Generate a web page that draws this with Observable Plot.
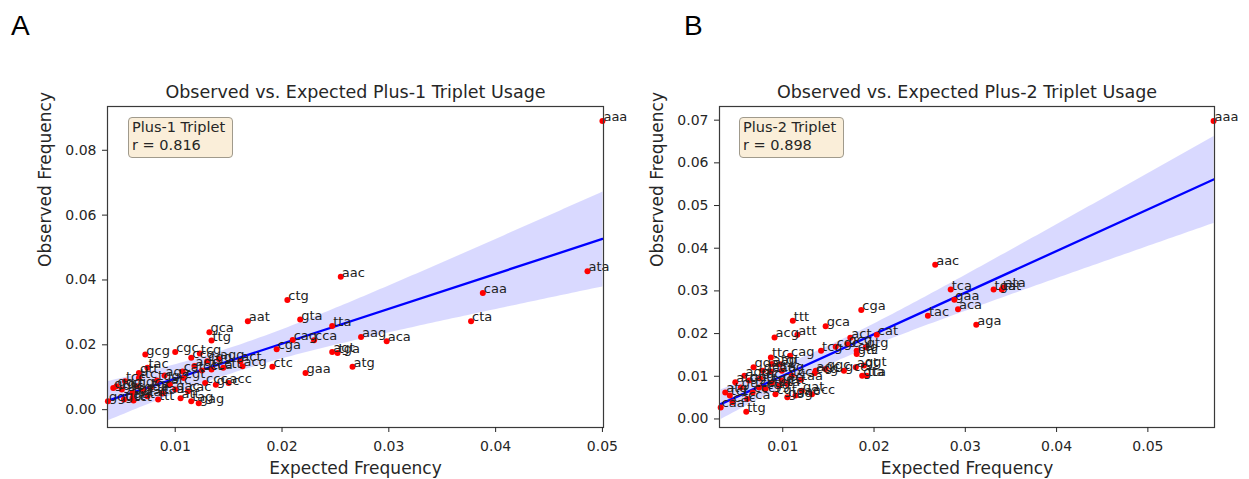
<!DOCTYPE html>
<html>
<head>
<meta charset="utf-8">
<script src="https://cdn.jsdelivr.net/npm/d3@7"></script>
<script src="https://cdn.jsdelivr.net/npm/@observablehq/plot@0.6"></script>
<style>
  html, body { margin: 0; padding: 0; background: #fff; }
  #root { position: relative; width: 1249px; height: 479px; overflow: hidden; font-family: "DejaVu Sans", sans-serif; color: #262626; }
  .panel { position: absolute; top: 0; }
  .letter { position: absolute; font-family: "Liberation Sans", Arial, sans-serif; font-size: 28px; color: #000; line-height: 1; }
  .legend { position: absolute; box-sizing: border-box; background: #faeed9; border: 1.3px solid #a09a8c; border-radius: 4px;
            font-family: "DejaVu Sans", sans-serif; font-size: 14.5px; line-height: 17.7px; padding: 1px 0 0 3px; color: #262626; white-space: nowrap; }
</style>
</head>
<body>
<div id="root"></div>
<script>
// ---------- Data ----------
const codonsA = ["aaa","aac","ata","caa","cta","aag","aca","atg","agt","tga","gaa","ctc","acg","act","cga","cca","cag","tta","gta","ctg","aat","gca","ttg","gcg","cgc","ccg","tcg","cgg","agg","ctt","cat","cct","ccc","gcc","acc","cac","tag","gag","gac","tgg","tgc","tat","ttc","ggc","gat","tcc","gtc","ggg","gtg","ggt","gct","tct","ttt","tac","gtt","cgt","tca","aga","agc","atc","att","gga","taa","tgt"];
const expectedA = [0.0500,0.0255,0.0486,0.0388,0.0377,0.0274,0.0298,0.0266,0.0247,0.0252,0.0222,0.0191,0.0163,0.0161,0.0195,0.0230,0.0210,0.0247,0.0217,0.0205,0.0168,0.0132,0.0134,0.0072,0.0100,0.0115,0.0123,0.0130,0.0141,0.0145,0.0107,0.0125,0.0128,0.0138,0.0150,0.0112,0.0115,0.0122,0.0100,0.0083,0.0077,0.0074,0.0066,0.0064,0.0060,0.0053,0.0050,0.0045,0.0042,0.0037,0.0052,0.0061,0.0084,0.0074,0.0066,0.0108,0.0134,0.0090,0.0118,0.0095,0.0105,0.0070,0.0088,0.0060];
const observedA = [0.0890,0.0410,0.0427,0.0360,0.0273,0.0224,0.0211,0.0132,0.0178,0.0175,0.0113,0.0132,0.0134,0.0149,0.0186,0.0214,0.0215,0.0258,0.0278,0.0338,0.0273,0.0239,0.0213,0.0170,0.0178,0.0160,0.0173,0.0149,0.0156,0.0129,0.0118,0.0121,0.0082,0.0077,0.0082,0.0057,0.0026,0.0020,0.0062,0.0090,0.0067,0.0041,0.0098,0.0072,0.0036,0.0088,0.0062,0.0072,0.0067,0.0026,0.0031,0.0028,0.0031,0.0129,0.0113,0.0098,0.0124,0.0105,0.0135,0.0078,0.0035,0.0058,0.0050,0.0052];

const codonsB = ["aaa","aac","tca","gaa","aca","aga","tac","tga","tat","ata","cga","cat","act","gca","ttt","att","acg","ttc","cag","tcg","cgc","gcg","ctg","gtg","gtc","agc","ggc","gcc","agt","ggt","gta","tta","acc","ttg","ccg","aag","aat","agg","atc","atg","caa","cac","cca","ccc","cct","cgg","cgt","cta","ctc","ctt","gac","gag","gat","gct","gga","ggg","gtt","tag","tcc","tct","tgc","tgg","tgt","taa"];
const expectedB = [0.0572,0.0267,0.0284,0.0288,0.0292,0.0312,0.0259,0.0331,0.0340,0.0342,0.0186,0.0203,0.0174,0.0147,0.0111,0.0116,0.0091,0.0087,0.0108,0.0142,0.0158,0.0171,0.0181,0.0191,0.0181,0.0136,0.0147,0.0167,0.0180,0.0189,0.0187,0.0192,0.0132,0.0060,0.0135,0.0088,0.0087,0.0058,0.0048,0.0037,0.0032,0.0045,0.0061,0.0067,0.0074,0.0081,0.0092,0.0096,0.0099,0.0105,0.0114,0.0105,0.0121,0.0078,0.0068,0.0063,0.0054,0.0099,0.0110,0.0042,0.0075,0.0088,0.0097,0.0120];
const observedB = [0.0698,0.0361,0.0303,0.0279,0.0257,0.0221,0.0242,0.0303,0.0303,0.0308,0.0255,0.0197,0.0190,0.0217,0.0230,0.0197,0.0191,0.0144,0.0148,0.0160,0.0169,0.0175,0.0160,0.0168,0.0152,0.0113,0.0117,0.0113,0.0121,0.0125,0.0101,0.0101,0.0058,0.0017,0.0107,0.0129,0.0111,0.0101,0.0086,0.0062,0.0027,0.0039,0.0047,0.0062,0.0074,0.0070,0.0058,0.0078,0.0090,0.0082,0.0055,0.0051,0.0066,0.0113,0.0121,0.0090,0.0074,0.0113,0.0101,0.0055,0.0095,0.0085,0.0128,0.0092];

const xTicks = [0.01, 0.02, 0.03, 0.04, 0.05];
const yTicksA = [0.00, 0.02, 0.04, 0.06, 0.08];
const yTicksB = [0.00, 0.01, 0.02, 0.03, 0.04, 0.05, 0.06, 0.07];
const titles = ["Observed vs. Expected Plus-1 Triplet Usage", "Observed vs. Expected Plus-2 Triplet Usage"];
const legendNames = ["Plus-1 Triplet", "Plus-2 Triplet"];
const rValues = ["0.816", "0.898"];
const xLabel = "Expected Frequency";
const yLabel = "Observed Frequency";
const panelLetters = ["A", "B"];

// ---------- Drawing ----------
const root = document.getElementById("root");
const fmt = d3.format(".2f");
const textColor = "#262626";

function makePanel(cfg) {
  const data = cfg.codons.map((c, i) => ({codon: c, exp: cfg.exp[i], obs: cfg.obs[i]}));
  const chart = Plot.plot({
    width: cfg.width, height: 479,
    marginLeft: cfg.ml, marginRight: cfg.mr, marginTop: 106, marginBottom: 52,
    style: {fontFamily: "'DejaVu Sans', sans-serif", fontSize: "14px", color: textColor, background: "transparent", overflow: "visible"},
    x: {domain: cfg.xDomain, label: null},
    y: {domain: cfg.yDomain, label: null},
    marks: [
      Plot.linearRegressionY(data, {x: "exp", y: "obs", stroke: "#0000ff", strokeWidth: 2.3, fill: "#0000ff", fillOpacity: 0.15, ci: cfg.ci}),
      Plot.dot(data, {x: "exp", y: "obs", r: 3, fill: "#ff0000", stroke: "none"}),
      Plot.text(data, {x: "exp", y: "obs", text: "codon", textAnchor: "start", lineAnchor: "bottom", dx: 1, fontSize: 13, fill: "#222"}),
      Plot.frame({stroke: "#3a3a3a", strokeWidth: 1.2}),
      Plot.axisX({ticks: xTicks, tickFormat: fmt, tickSize: 5, tickPadding: 9, label: null, fontSize: 14}),
      Plot.axisY({ticks: cfg.yTicks, tickFormat: fmt, tickSize: 5, tickPadding: 6, label: null, fontSize: 14}),
      Plot.text([cfg.title], {text: d => d, frameAnchor: "top", lineAnchor: "bottom", dy: -9, fontSize: 17.5, fill: textColor}),
      Plot.text([xLabel], {text: d => d, frameAnchor: "bottom", lineAnchor: "bottom", dy: 46, fontSize: 17, fill: textColor}),
      Plot.text([yLabel], {text: d => d, frameAnchor: "left", lineAnchor: "bottom", rotate: -90, dx: cfg.yLabelDx, fontSize: 17, fill: textColor})
    ]
  });
  chart.classList.add("panel");
  chart.style.left = cfg.left + "px";
  root.appendChild(chart);

  const letter = document.createElement("div");
  letter.className = "letter";
  letter.textContent = cfg.letter;
  letter.style.left = cfg.letterX + "px";
  letter.style.top = "12px";
  root.appendChild(letter);

  const leg = document.createElement("div");
  leg.className = "legend";
  leg.style.left = cfg.legX + "px";
  leg.style.top = "117px";
  leg.style.width = cfg.legW + "px";
  leg.style.height = "41px";
  const l1 = document.createElement("div"); l1.textContent = cfg.legName;
  const l2 = document.createElement("div"); l2.textContent = "r = " + cfg.r;
  leg.appendChild(l1); leg.appendChild(l2);
  root.appendChild(leg);
}

makePanel({
  codons: codonsA, exp: expectedA, obs: observedA,
  left: 0, width: 620, ml: 107, mr: 17,
  xDomain: [0.00366, 0.0501], yDomain: [-0.0055, 0.0935], yTicks: yTicksA, ci: 0.9999,
  title: titles[0], yLabelDx: -57, letter: panelLetters[0], letterX: 11,
  legName: legendNames[0], r: rValues[0], legX: 128, legW: 105
});
makePanel({
  codons: codonsB, exp: expectedB, obs: observedB,
  left: 620, width: 629, ml: 99, mr: 35,
  xDomain: [0.00307, 0.0573], yDomain: [-0.0020, 0.0732], yTicks: yTicksB, ci: 0.9995,
  title: titles[1], yLabelDx: -57, letter: panelLetters[1], letterX: 684,
  legName: legendNames[1], r: rValues[1], legX: 739, legW: 105
});
</script>
</body>
</html>
